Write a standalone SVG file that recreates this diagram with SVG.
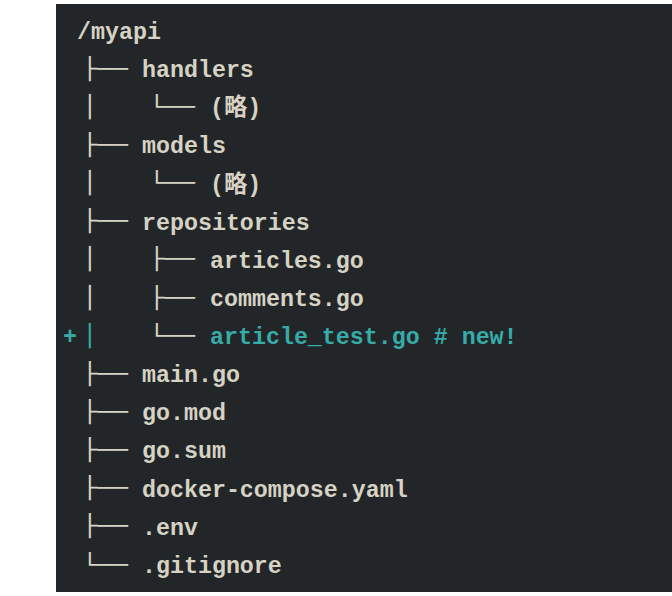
<svg xmlns="http://www.w3.org/2000/svg" width="672" height="596" viewBox="0 0 672 596">
<style>
.t{font-family:"Liberation Mono","Noto Sans CJK JP",monospace;font-size:23.3px;font-weight:bold;fill:#d6d2c4;white-space:pre}
.b{font-family:"DejaVu Sans Mono",monospace;font-size:25.25px;fill:#d6d2c4;white-space:pre;transform-box:fill-box;transform-origin:center;transform:scaleY(0.85)}
.n{fill:#36aba7}
</style>
<rect x="56" y="4" width="616" height="588" fill="#232629"/>
<g id="root"><text class="t" x="77" y="38.9">/myapi</text></g>
<g id="handlers"><text class="b" x="82.4" y="77">├──</text><text class="t" x="142" y="77">handlers</text></g>
<g id="handlers-omit"><text class="b" x="82.4" y="115.2">│</text><text class="b" x="149.4" y="115.2">└──</text><text class="t" x="210" y="115.2">(略)</text></g>
<g id="models"><text class="b" x="82.4" y="153.3">├──</text><text class="t" x="142" y="153.3">models</text></g>
<g id="models-omit"><text class="b" x="82.4" y="191.5">│</text><text class="b" x="149.4" y="191.5">└──</text><text class="t" x="210" y="191.5">(略)</text></g>
<g id="repositories"><text class="b" x="82.4" y="229.6">├──</text><text class="t" x="142" y="229.6">repositories</text></g>
<g id="articles"><text class="b" x="82.4" y="267.7">│</text><text class="b" x="149.4" y="267.7">├──</text><text class="t" x="210" y="267.7">articles.go</text></g>
<g id="comments"><text class="b" x="82.4" y="305.9">│</text><text class="b" x="149.4" y="305.9">├──</text><text class="t" x="210" y="305.9">comments.go</text></g>
<g id="article-test"><text class="t n" x="63" y="344">+</text><text class="b n" x="82.4" y="344">│</text><text class="b" x="149.4" y="344">└──</text><text class="t n" x="210" y="344">article_test.go # new!</text></g>
<g id="main"><text class="b" x="82.4" y="382.2">├──</text><text class="t" x="142" y="382.2">main.go</text></g>
<g id="gomod"><text class="b" x="82.4" y="420.3">├──</text><text class="t" x="142" y="420.3">go.mod</text></g>
<g id="gosum"><text class="b" x="82.4" y="458.4">├──</text><text class="t" x="142" y="458.4">go.sum</text></g>
<g id="compose"><text class="b" x="82.4" y="496.6">├──</text><text class="t" x="142" y="496.6">docker-compose.yaml</text></g>
<g id="env"><text class="b" x="82.4" y="534.7">├──</text><text class="t" x="142" y="534.7">.env</text></g>
<g id="gitignore"><text class="b" x="82.4" y="572.9">└──</text><text class="t" x="142" y="572.9">.gitignore</text></g>
</svg>
